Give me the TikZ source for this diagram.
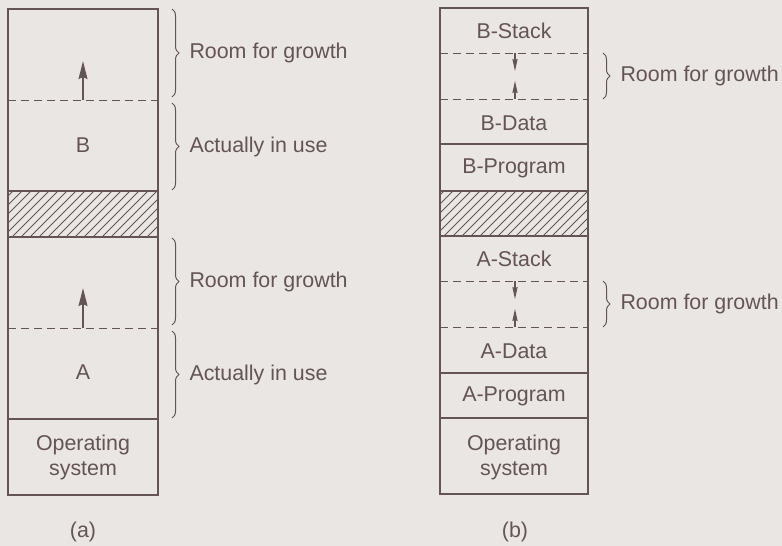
\documentclass[tikz,border=0pt]{standalone}
\usepackage{fontspec}
\setmainfont{Liberation Sans}
\usetikzlibrary{decorations.pathreplacing,arrows.meta}
\definecolor{bg}{RGB}{233,230,228}
\definecolor{ink}{RGB}{100,84,84}
\tikzset{
  box/.style={draw=ink, line width=1pt},
  sep/.style={draw=ink, line width=0.9pt},
  dashsep/.style={draw=ink, line width=0.5pt, dash pattern=on 4pt off 2.5pt},
  lbl/.style={text=ink, font=\fontsize{10.7}{12.5}\selectfont, align=center, inner sep=0pt},
  brc/.style={draw=ink, line width=0.5pt, decorate, decoration={brace, amplitude=3.5pt}},
  growarrow/.style={draw=ink, line width=1pt, -{Stealth[length=9pt,width=4.4pt,inset=1pt]}},
  growsmall/.style={draw=ink, line width=0.6pt, -{Stealth[length=6pt,width=2.6pt,inset=0.6pt]}},
  hatchline/.style={draw=ink, line width=0.5pt},
}
\begin{document}
\begin{tikzpicture}[x=0.5pt,y=-0.5pt]
\fill[bg] (0,0) rectangle (782,546);
\useasboundingbox (0,0) rectangle (782,546);

% ---------- (a) ----------
\begin{scope}
  \clip (8,191) rectangle (158,237);
  \foreach \i in {-60,-51,...,200} \draw[hatchline] (\i,237) -- (\i+46,191);
\end{scope}
\draw[box] (8,9) rectangle (158,495);
\draw[sep] (8,191) -- (158,191);
\draw[sep] (8,237) -- (158,237);
\draw[sep] (8,419) -- (158,419);
\draw[dashsep] (8,100) -- (158,100);
\draw[dashsep] (8,328) -- (158,328);

\coordinate (aBbase) at (83,100);
\coordinate (aBtip) at (83,61);
\coordinate (aAbase) at (83,328);
\coordinate (aAtip) at (83,288);
\draw[growarrow] (aBbase) -- (aBtip);
\draw[growarrow] (aAbase) -- (aAtip);

\node[lbl] (aB) at (83,145) {B};
\node[lbl] (aA) at (83,372) {A};
\node[lbl] (aOS) at (83,457) {Operating\\system};
\node[lbl] (alab) at (83,532) {(a)};

\draw[brc] (172,9) -- (172,97) node[midway, right=8.5pt, lbl, anchor=west] (ar1) {Room for growth};
\draw[brc] (172,103) -- (172,190) node[midway, right=8.5pt, lbl, anchor=west] (au1) {Actually in use};
\draw[brc] (172,238) -- (172,325) node[midway, right=8.5pt, lbl, anchor=west] (ar2) {Room for growth};
\draw[brc] (172,331) -- (172,418) node[midway, right=8.5pt, lbl, anchor=west] (au2) {Actually in use};

% ---------- (b) ----------
\begin{scope}
  \clip (440,191) rectangle (588,236);
  \foreach \i in {372,381,...,640} \draw[hatchline] (\i,236) -- (\i+45,191);
\end{scope}
\draw[box] (440,8) rectangle (588,494);
\foreach \yy in {144,191,236,373,418} \draw[sep] (440,\yy) -- (588,\yy);
\foreach \yy in {53,99,281,327} \draw[dashsep] (440,\yy) -- (588,\yy);

\coordinate (bB1) at (515,53);
\coordinate (bB1t) at (515,71);
\coordinate (bB2) at (515,99);
\coordinate (bB2t) at (515,81);
\coordinate (bA1) at (515,281);
\coordinate (bA1t) at (515,299);
\coordinate (bA2) at (515,327);
\coordinate (bA2t) at (515,309);
\draw[growsmall] (bB1) -- (bB1t);
\draw[growsmall] (bB2) -- (bB2t);
\draw[growsmall] (bA1) -- (bA1t);
\draw[growsmall] (bA2) -- (bA2t);

\node[lbl] (bBS) at (514,31) {B-Stack};
\node[lbl] (bBD) at (514,123) {B-Data};
\node[lbl] (bBP) at (514,168) {B-Program};
\node[lbl] (bAS) at (514,259) {A-Stack};
\node[lbl] (bAD) at (514,351) {A-Data};
\node[lbl] (bAP) at (514,396) {A-Program};
\node[lbl] (bOS) at (514,457) {Operating\\system};
\node[lbl] (blab) at (515,532) {(b)};

\draw[brc] (603,53) -- (603,99) node[midway, right=8.5pt, lbl, anchor=west] (br1) {Room for growth};
\draw[brc] (603,281) -- (603,327) node[midway, right=8.5pt, lbl, anchor=west] (br2) {Room for growth};
\end{tikzpicture}
\end{document}
